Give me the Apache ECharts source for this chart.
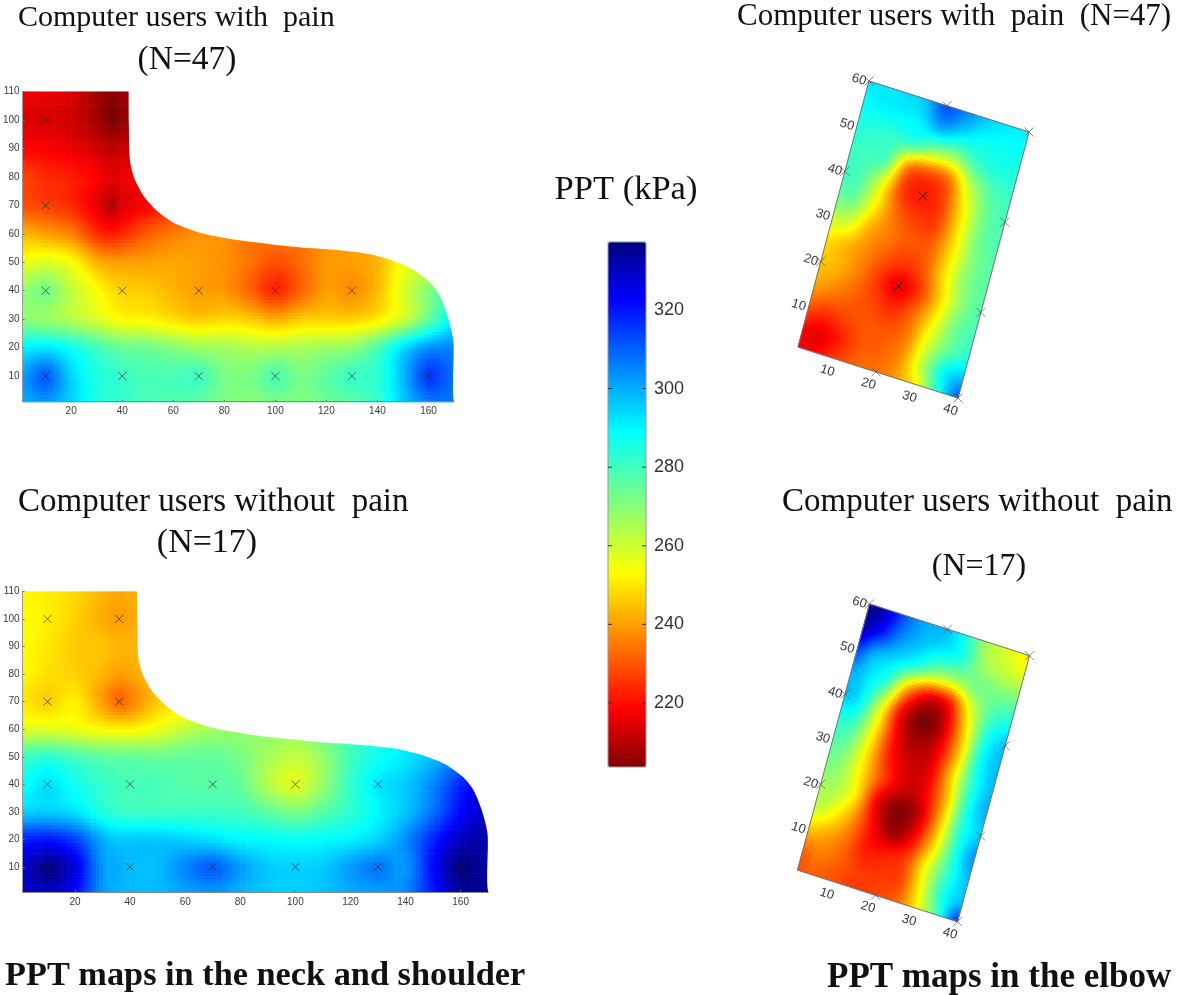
<!DOCTYPE html>
<html><head><meta charset="utf-8">
<style>html,body{margin:0;padding:0;background:#fff}#c{width:1200px;height:995px;filter:blur(0.6px)}</style>
<script src="https://cdn.jsdelivr.net/npm/echarts@6/dist/echarts.min.js"></script>
</head><body><div id="c"></div>
<script>
// ---------- data ----------
const neckX = [1,10,20,30,36,40,50,60,70,80,90,100,110,120,130,140,150,160,170];
const neckY = [110,100,90,80,70,60,50,40,30,20,10,1];
const neckPain = [
[217,216,214,208,205,207,212,218,224,230,232,232,232,236,238,240,244,250,255],
[214,214,213,208,204,206,212,218,224,230,232,232,232,236,238,240,244,250,255],
[219,218,216,213,211,212,215,220,226,232,233,232,232,236,238,240,244,250,255],
[227,224,222,218,215,216,218,222,228,234,234,232,232,236,238,240,244,250,255],
[229,227,224,216,211,215,219,225,232,236,235,233,233,237,239,241,245,252,258],
[243,240,236,225,222,224,231,235,238,238,234,235,235,238,240,242,248,255,260],
[256,258,254,243,240,240,240,241,240,238,234,229,233,239,240,243,254,260,265],
[268,272,262,254,249,247,246,243,240,239,232,224,232,240,238,244,258,270,280],
[270,268,264,259,255,253,252,249,246,248,246,242,246,247,247,251,260,275,290],
[290,292,287,280,276,274,273,270,267,266,264,264,265,267,269,278,293,303,305],
[302,310,295,285,283,281,279,279,280,272,272,278,272,276,281,283,298,315,308],
[300,303,295,285,282,282,279,278,276,272,270,272,271,274,277,282,296,307,307]];
const neckNoPain = [
[252,251,248,243,241,242,245,250,255,260,265,268,275,280,285,290,295,300,305],
[253,251,247,242,240,241,245,250,255,260,265,268,275,280,285,290,295,300,305],
[253,250,246,245,243,243,246,250,255,260,265,268,275,280,285,290,295,300,305],
[252,249,247,243,240,241,246,250,255,260,265,268,275,280,285,290,295,300,305],
[250,247,251,240,233,236,246,250,256,262,266,268,275,280,285,290,295,300,305],
[258,258,256,253,252,252,256,262,266,268,268,268,275,280,287,291,296,302,305],
[280,283,279,276,275,275,274,275,275,272,266,262,268,280,287,292,298,305,305],
[288,293,287,282,280,279,279,277,277,275,264,258,268,282,292,296,305,318,325],
[295,296,293,285,282,281,281,281,281,280,276,272,277,283,290,297,308,322,330],
[318,320,314,300,296,296,296,295,293,290,289,288,289,291,295,304,318,330,332],
[328,336,326,303,300,298,298,305,310,302,296,295,296,302,307,303,322,337,333],
[328,330,322,303,299,298,298,301,303,299,296,295,297,300,302,305,320,334,334]];
const neckOutlineX = [42.5,42.6,43,44.7,48.6,53.8,60.3,70.7,83.8,96.8,109.9,123,136,145,154.2,160.7,164.6,167.9,169.8,170];
const neckOutlineY = [110,98,86,79.6,73,67.9,63.8,60.3,58,56.5,55.2,54.4,53,50.9,47.4,42.8,38,29.9,21.7,1];
const neckMarkX = [10,36,10,36,10,40,70,100,130,10,40,70,100,130,160];
const neckMarkY = [100,100,70,70,40,40,40,40,40,10,10,10,10,10,10];
const neckTickX = [20,40,60,80,100,120,140,160];
const neckTickY = [10,20,30,40,50,60,70,80,90,100,110];

const elbowU = [1,5,10,15,20,25,30,35,40];
const elbowV = [60,55,50,45,40,35,30,25,20,15,10,5,1];
const elbowPain = [
[292,292,293,297,312,305,296,292,290],
[288,290,290,291,300,293,288,288,288],
[285,283,282,281,270,268,280,285,284],
[281,280,276,238,230,235,262,277,281],
[280,278,258,228,222,228,252,273,279],
[275,273,252,233,226,228,250,272,278],
[262,260,243,235,230,232,250,270,277],
[250,245,238,231,226,231,251,270,276],
[245,243,236,226,217,226,247,268,278],
[241,237,232,228,224,233,252,272,279],
[230,226,228,230,230,236,258,275,283],
[219,216,222,230,232,239,262,288,298],
[217,218,226,232,234,240,255,285,310]];
const elbowNoPain = [
[337,330,312,300,298,285,265,258,252],
[332,322,305,297,291,285,268,262,258],
[315,300,293,283,268,265,272,272,272],
[300,293,279,240,218,222,256,278,285],
[297,290,258,218,204,212,246,283,296],
[285,280,252,219,208,215,244,285,298],
[277,272,248,222,213,217,247,283,298],
[272,267,248,226,213,217,243,282,300],
[266,264,248,216,205,212,243,282,295],
[262,255,240,220,207,218,247,282,303],
[245,242,234,222,222,228,256,282,298],
[232,235,231,226,226,229,255,285,298],
[230,231,229,226,228,232,252,280,315]];
const elbowMarkU = [1,20,40,1,20,40,1,20,40,20,40];
const elbowMarkV = [60,60,60,40,40,40,20,20,20,1,1];
const elbowTickU = [10,20,30,40];
const elbowTickV = [10,20,30,40,50,60];
const barTicks = [220,240,260,280,300,320];
const barMin = 203.7, barMax = 337.3;

const T = {
  painTwo:'Computer users with  pain', n47:'(N=47)', painOne:'Computer users with  pain  (N=47)',
  noPain:'Computer users without  pain', n17:'(N=17)', ppt:'PPT (kPa)',
  capNeck:'PPT maps in the neck and shoulder', capElbow:'PPT maps in the elbow'
};

// ---------- palette ----------
const anchors = [[0,128,0,0],[0.11,255,0,0],[0.37,255,255,0],[0.64,0,255,255],[0.89,0,0,255],[1,0,0,128]];
function jet(t){
  t=Math.max(0,Math.min(1,t));
  for(let k=0;k<anchors.length-1;k++){
    const a=anchors[k],b=anchors[k+1];
    if(t<=b[0]){const f=(t-a[0])/(b[0]-a[0]);
      return 'rgb('+[1,2,3].map(c=>Math.round(a[c]+(b[c]-a[c])*f)).join(',')+')';}
  }
}
const colorOf = v => jet((v-barMin)/(barMax-barMin));
const jetList = Array.from({length:65},(_,i)=>jet(i/64));

// smooth shading between the read values (display only, like MATLAB's interpolated shading)
function cr(p0,p1,p2,p3,t){
  return 0.5*((2*p1)+(-p0+p2)*t+(2*p0-5*p1+4*p2-p3)*t*t+(-p0+3*p1-3*p2+p3)*t*t*t);
}
function shade(rows,i,j,f,g){
  const nx=rows[0].length,ny=rows.length;
  const at=(r,c)=>rows[Math.max(0,Math.min(ny-1,r))][Math.max(0,Math.min(nx-1,c))];
  const col=r=>cr(at(r,i-1),at(r,i),at(r,i+1),at(r,i+2),f);
  return cr(col(j-1),col(j),col(j+1),col(j+2),g);
}

// ---------- layout ----------
const neckBoxes = [
  {left:21.7,right:454,top:91.5,bottom:401.7},
  {left:22.6,right:488.2,top:591.4,bottom:891.8}];
const elbowBoxes = [
  {ox:798,oy:347,e1:[160,51],e2:[71,-266]},
  {ox:797.5,oy:870,e1:[160,51.7],e2:[72,-266]}];
const W=1200,H=995;

const grids=[],xAxes=[],yAxes=[],series=[];
const tickFont={fontFamily:'Liberation Sans',fontSize:10,color:'#3a3a3a'};
neckBoxes.forEach(b=>{
  grids.push({left:b.left,top:b.top,width:b.right-b.left,height:b.bottom-b.top});
  xAxes.push({gridIndex:grids.length-1,type:'value',min:1,max:170,z:6,splitLine:{show:false},
    axisLine:{onZero:false,lineStyle:{color:'#888',width:1}},
    axisTick:{inside:true,length:2,lineStyle:{color:'#777'},customValues:neckTickX},
    axisLabel:Object.assign({margin:5,customValues:neckTickX},tickFont)});
  yAxes.push({gridIndex:grids.length-1,type:'value',min:1,max:110,z:6,splitLine:{show:false},
    axisLine:{onZero:false,lineStyle:{color:'#999',width:1}},
    axisTick:{inside:true,length:2,lineStyle:{color:'#777'},customValues:neckTickY},
    axisLabel:Object.assign({margin:3,customValues:neckTickY},tickFont)});
});
// elbow grids: hidden local axes, sheared onto the page by a transform
elbowBoxes.forEach(b=>{
  grids.push({left:b.ox,top:b.oy-300,width:200,height:300});
  xAxes.push({gridIndex:grids.length-1,type:'value',min:1,max:40,show:false});
  yAxes.push({gridIndex:grids.length-1,type:'value',min:1,max:60,show:false});
});
// colour bar axis
grids.push({left:608,top:242,width:38,height:525});
xAxes.push({gridIndex:4,type:'value',min:0,max:1,show:false});
yAxes.push({gridIndex:4,type:'value',min:barMin,max:barMax,position:'right',z:8,splitLine:{show:false},
  axisLine:{show:false},axisTick:{show:false},
  axisLabel:{margin:8,customValues:barTicks,fontFamily:'Liberation Sans',fontSize:18,color:'#333'}});

function heat(gridIndex,xs,ys,rows,warp){
  const data=[];
  rows.forEach((r,j)=>r.forEach((v,i)=>data.push([xs[i],ys[j],v,i,j])));
  return {type:'custom',xAxisIndex:gridIndex,yAxisIndex:gridIndex,z:2,silent:true,animation:false,progressive:0,
    data,
    renderItem(p,api){
      const i=api.value(3),j=api.value(4);
      if(i>=xs.length-1||j>=ys.length-1) return null;
      const pa=api.coord([xs[i],ys[j]]),pd=api.coord([xs[i+1],ys[j+1]]);
      const step=3.5;
      const nx=Math.max(1,Math.ceil(Math.abs(pd[0]-pa[0])/step)),ny=Math.max(1,Math.ceil(Math.abs(pd[1]-pa[1])/step));
      const children=[];
      for(let m=0;m<nx;m++)for(let n=0;n<ny;n++){
        const col=colorOf(shade(rows,i,j,(m+.5)/nx,(n+.5)/ny));
        const px=pa[0]+(pd[0]-pa[0])*m/nx,py=pa[1]+(pd[1]-pa[1])*n/ny;
        const qx=pa[0]+(pd[0]-pa[0])*(m+1)/nx,qy=pa[1]+(pd[1]-pa[1])*(n+1)/ny;
        if(warp){
          children.push({type:'polygon',silent:true,shape:{points:[warp(px,py),warp(qx,py),warp(qx,qy),warp(px,qy)]},
            style:{fill:col,stroke:col,lineWidth:1}});
        }else{
          children.push({type:'rect',silent:true,shape:{x:px,y:py,width:qx-px+.6,height:qy-py+.6},style:{fill:col}});
        }
      }
      return {type:'group',children};
    }};
}
function makeWarp(box,gridBox){
  return (px,py)=>{
    const u=(px-gridBox.left)/gridBox.width, v=(gridBox.top+gridBox.height-py)/gridBox.height;
    return [box.ox+u*box.e1[0]+v*box.e2[0], box.oy+u*box.e1[1]+v*box.e2[1]];
  };
}
// neck maps
[neckPain,neckNoPain].forEach((rows,k)=>{
  series.push(heat(k,neckX,neckY,rows,null));
  series.push({type:'custom',xAxisIndex:k,yAxisIndex:k,z:3,silent:true,animation:false,
    data:neckOutlineX.map((x,i)=>[x,neckOutlineY[i]]),
    renderItem(p,api){
      if(p.dataIndex!==0) return null;
      const pts=neckOutlineX.map((x,i)=>api.coord([x,neckOutlineY[i]]));
      return {type:'group',silent:true,children:[
        {type:'polygon',silent:true,shape:{points:pts.concat([api.coord([174,1]),api.coord([174,114]),api.coord([neckOutlineX[0],114])]),smooth:0.25},style:{fill:'#fff'}}]};
    }});
  series.push({type:'scatter',xAxisIndex:k,yAxisIndex:k,z:4,silent:true,animation:false,
    symbol:'path://M0,0L10,10M10,0L0,10',symbolSize:8,
    itemStyle:{color:'none',borderColor:'#222',borderWidth:0.8},
    data:neckMarkX.map((x,i)=>[x,neckMarkY[i]])});
});
// elbow maps
[elbowPain,elbowNoPain].forEach((rows,k)=>{
  const gi=k+2,gb=grids[gi],warp=makeWarp(elbowBoxes[k],gb);
  series.push(heat(gi,elbowU,elbowV,rows,warp));
  series.push({type:'custom',xAxisIndex:gi,yAxisIndex:gi,z:4,silent:true,animation:false,
    data:[[1,1],[40,1],[40,60],[1,60]],
    renderItem(p,api){
      if(p.dataIndex!==0) return null;
      const pts=[[1,1],[40,1],[40,60],[1,60]].map(q=>{const c=api.coord(q);return warp(c[0],c[1]);});
      return {type:'polygon',silent:true,shape:{points:pts},style:{fill:'none',stroke:'#777',lineWidth:1}};
    }});
  series.push({type:'custom',xAxisIndex:gi,yAxisIndex:gi,z:5,silent:true,animation:false,
    data:elbowMarkU.map((u,i)=>[u,elbowMarkV[i]]),
    renderItem(p,api){
      const c=api.coord([api.value(0),api.value(1)]),q=warp(c[0],c[1]),s=4.5;
      const inner=api.value(0)===20&&api.value(1)>1&&api.value(1)<60;
      const st={stroke:inner?'#222':'#555',lineWidth:inner?0.9:0.7,fill:'none'};
      return {type:'group',silent:true,children:[
        {type:'line',silent:true,shape:{x1:q[0]-s,y1:q[1]-s,x2:q[0]+s,y2:q[1]+s},style:st},
        {type:'line',silent:true,shape:{x1:q[0]-s,y1:q[1]+s,x2:q[0]+s,y2:q[1]-s},style:st}]};
    }});
  const lab=(x,y,dx,dy,t)=>({type:'text',silent:true,x:x+dx,y:y+dy,rotation:-0.3,
    style:{text:String(t),fill:'#3a3a3a',font:'13px "Liberation Sans"',textAlign:'center',textVerticalAlign:'middle'}});
  series.push({type:'custom',xAxisIndex:gi,yAxisIndex:gi,z:5,silent:true,animation:false,
    data:elbowTickU.map(u=>[u,1]),
    renderItem(p,api){const c=api.coord([api.value(0),1]),q=warp(c[0],c[1]);return lab(q[0],q[1],-7.5,12,api.value(0));}});
  series.push({type:'custom',xAxisIndex:gi,yAxisIndex:gi,z:5,silent:true,animation:false,
    data:elbowTickV.map(v=>[1,v]),
    renderItem(p,api){const c=api.coord([1,api.value(1)]),q=warp(c[0],c[1]);return lab(q[0],q[1],-10,-1.3,api.value(1));}});
});
// colour bar frame and ticks
series.push({type:'custom',xAxisIndex:4,yAxisIndex:4,z:7,silent:true,animation:false,clip:false,
  data:[[0,barMin]],
  renderItem(p,api){
    const a=api.coord([0,barMax]),b=api.coord([1,barMin]);
    return {type:'rect',silent:true,shape:{x:a[0],y:a[1],width:b[0]-a[0],height:b[1]-a[1]},style:{fill:'none',stroke:'#999',lineWidth:1}};
  }});
series.push({type:'custom',xAxisIndex:4,yAxisIndex:4,z:7,silent:true,animation:false,clip:false,
  data:barTicks.map(v=>[0,v]),
  renderItem(p,api){
    const a=api.coord([0,api.value(1)]),b=api.coord([1,api.value(1)]),st={stroke:'#333',lineWidth:1,fill:'none'};
    return {type:'group',silent:true,children:[
      {type:'line',silent:true,shape:{x1:a[0],y1:a[1],x2:a[0]+4,y2:a[1]},style:st},
      {type:'line',silent:true,shape:{x1:b[0]-4,y1:b[1],x2:b[0],y2:b[1]},style:st}]};
  }});

const text=(t,x,y,size,align,bold)=>({type:'text',silent:true,x,y,z:20,
  style:{text:t,fill:'#111',font:(bold?'bold ':'')+size+'px "Liberation Serif"',textAlign:align,textVerticalAlign:'middle'}});

const chart=echarts.init(document.getElementById('c'),null,{renderer:'canvas',width:W,height:H});
chart.setOption({
  animation:false,backgroundColor:'#fff',
  grid:grids,xAxis:xAxes,yAxis:yAxes,series,
  visualMap:{type:'continuous',seriesIndex:[],min:barMin,max:barMax,calculable:false,hoverLink:false,realtime:false,
    orient:'vertical',left:608,top:242,itemWidth:38,itemHeight:525,padding:0,text:null,showLabel:false,
    inRange:{color:jetList},z:5},
  graphic:{elements:[
    text(T.painTwo,18,18,30,'left'),
    text(T.n47,187,60,33.5,'center'),
    text(T.painOne,737,17,31,'left'),
    text(T.ppt,626,190,34.5,'center'),
    text(T.noPain,18,502,33,'left'),
    text(T.n17,207,543,34,'center'),
    text(T.noPain,782,502,33,'left'),
    text(T.n17,979,567,32,'center'),
    text(T.capNeck,5,976,34.3,'left',true),
    text(T.capElbow,827,978,35,'left',true)
  ]}
});
</script></body></html>
